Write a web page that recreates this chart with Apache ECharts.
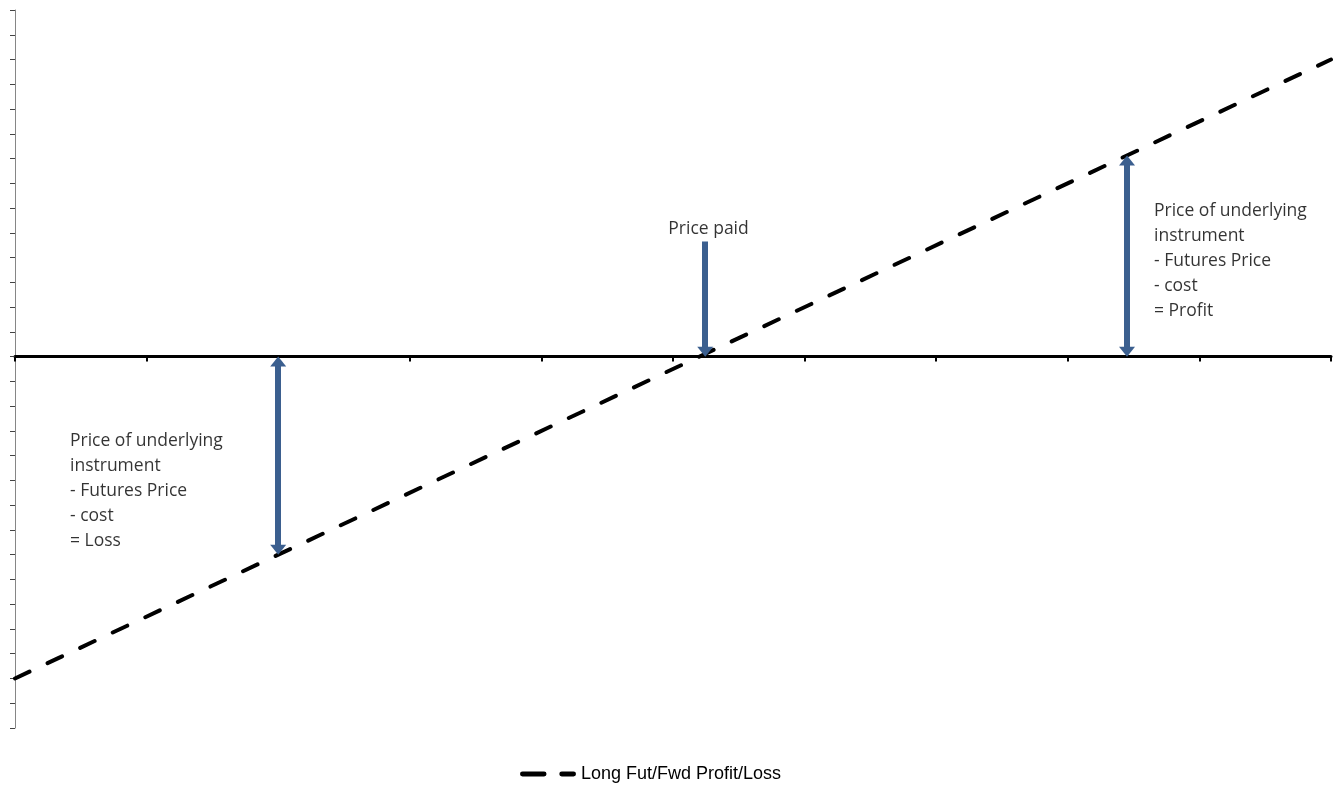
<!DOCTYPE html>
<html lang="en">
<head>
    <meta charset="UTF-8">
    <title>Long Fut/Fwd Profit/Loss</title>
    <script src="https://cdn.jsdelivr.net/npm/echarts@6/dist/echarts.min.js"></script>
    <style>
        html, body { margin: 0; padding: 0; background: #fff; }
    </style>
</head>
<body>
<div id="main" style="width: 1340px;height:785px;"></div>
<script type="text/javascript">
    // payoff line: underlying price (x) vs profit/loss (y)
    var seriesName = 'Long Fut/Fwd Profit/Loss';
    var linePrices = [0, 10];
    var lineValues = [-13, 12];

    // arrows: [x, yFrom, yTo, double headed]
    var arrowPaid = [5.245, 4.65, 0.2, false];
    var arrowProfit = [8.45, 0.2, 7.92, true];
    var arrowLoss = [2.0, -0.2, -7.8, true];

    // notes: [x, y (top of text), text]
    var notePaid = [5.27, 5.64, 'Price paid'];
    var noteProfit = [8.655, 6.37, 'Price of underlying\ninstrument\n- Futures Price\n- cost\n= Profit'];
    var noteLoss = [0.418, -2.89, 'Price of underlying\ninstrument\n- Futures Price\n- cost\n= Loss'];

    var arrowColor = '#3b5f8f';
    var textFont = '"Open Sans", "Noto Sans", sans-serif';

    var myChart = echarts.init(document.getElementById('main'));

    function arrowLine(a) {
        return [
            { coord: [a[0], a[1]], symbol: a[3] ? 'triangle' : 'none' },
            { coord: [a[0], a[2]], symbol: 'triangle' }
        ];
    }

    function noteData(n, align) {
        return {
            value: [n[0], n[1]],
            label: { formatter: n[2], align: align }
        };
    }

    var lineData = linePrices.map(function (p, i) { return [p, lineValues[i]]; });

    option = {
        animation: false,
        grid: { left: 15, right: 9, top: 10, bottom: 57 },
        legend: {
            left: 520,
            top: 765,
            padding: 0,
            itemWidth: 56,
            itemHeight: 5,
            itemGap: 4,
            itemStyle: { color: '#000', borderWidth: 0 },
            data: [{
                name: seriesName,
                icon: 'path://M2,0 h22 a2,2 0 0 1 0,5 h-22 a2,2 0 0 1 0,-5 z M42,0 h12 a2,2 0 0 1 0,5 h-12 a2,2 0 0 1 0,-5 z'
            }],
            textStyle: {
                fontFamily: '"Liberation Sans", Arial, sans-serif',
                fontSize: 18,
                color: '#000'
            }
        },
        xAxis: {
            type: 'value',
            min: 0,
            max: 10,
            interval: 1,
            axisLine: { lineStyle: { color: '#000', width: 3 } },
            axisTick: { show: true, length: 5, lineStyle: { color: '#000', width: 2 } },
            axisLabel: { show: false },
            splitLine: { show: false }
        },
        yAxis: {
            type: 'value',
            min: -15,
            max: 14,
            interval: 1,
            axisLine: { show: true, lineStyle: { color: '#868686', width: 1 } },
            axisTick: { show: true, length: 5, lineStyle: { color: '#444' } },
            axisLabel: { show: false },
            splitLine: { show: false }
        },
        series: [
            {
                name: seriesName,
                type: 'line',
                data: lineData,
                symbol: 'none',
                silent: true,
                z: 3,
                itemStyle: { color: '#000' },
                lineStyle: { color: '#000', width: 4, type: [16, 20], cap: 'round' },
                markLine: {
                    silent: true,
                    symbolSize: [16, 10],
                    label: { show: false },
                    lineStyle: { color: arrowColor, width: 6, type: 'solid' },
                    emphasis: { disabled: true },
                    data: [arrowLine(arrowPaid), arrowLine(arrowProfit), arrowLine(arrowLoss)]
                }
            },
            {
                name: 'notes',
                type: 'scatter',
                symbolSize: 0,
                silent: true,
                itemStyle: { color: '#000' },
                label: {
                    show: true,
                    position: [0, 0],
                    verticalAlign: 'top',
                    fontFamily: textFont,
                    fontSize: 17.5,
                    lineHeight: 25,
                    color: '#000',
                    textBorderWidth: 0,
                    textBorderColor: 'transparent'
                },
                data: [noteData(notePaid, 'center'), noteData(noteProfit, 'left'), noteData(noteLoss, 'left')]
            }
        ]
    };

    myChart.setOption(option);
</script>
</body>
</html>
